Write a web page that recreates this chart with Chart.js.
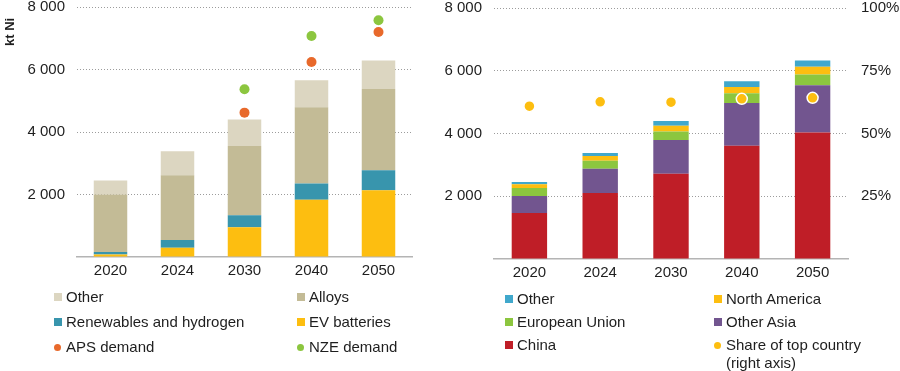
<!DOCTYPE html>
<html>
<head>
<meta charset="utf-8">
<script src="https://cdn.jsdelivr.net/npm/chart.js@4.4.0/dist/chart.umd.min.js"></script>
<style>
  html, body { margin: 0; padding: 0; background: #fff; }
  body { width: 900px; height: 371px; position: relative; overflow: hidden; font-family: "Liberation Sans", Arial, sans-serif; color: #1e1e1e; }
  .painel { position: absolute; }
  .eixo-titulo { position: absolute; left: 2px; transform: rotate(-90deg); transform-origin: left top; font-weight: bold; font-size: 13px; white-space: nowrap; }
  .legenda { position: absolute; font-size: 15px; line-height: 18px; }
  .legenda .item { position: absolute; white-space: nowrap; }
  .legenda .quad { position: absolute; width: 8px; height: 8px; top: 5px; }
  .legenda .ponto { position: absolute; width: 7px; height: 7px; border-radius: 50%; top: 6px; }
  .legenda .txt { position: absolute; left: 12px; top: 0; }
</style>
</head>
<body>
<div class="painel" style="left:0;top:-14px;width:450px;height:301px"><canvas id="graficoUso" width="450" height="301"></canvas></div>
<div class="painel" style="left:436px;top:-14px;width:464px;height:303px"><canvas id="graficoRegiao" width="464" height="303"></canvas></div>
<div class="eixo-titulo" style="top:46px">kt Ni</div>
<div class="legenda" id="legendaUso"></div>
<div class="legenda" id="legendaRegiao"></div>

<script>
// Anos (eixo x compartilhado)
const anos = ['2020', '2024', '2030', '2040', '2050'];

// Demanda por uso final (kt Ni) - grafico da esquerda
const evBatteries = [80, 300, 950, 1830, 2140];
const renewables = [80, 245, 390, 525, 640];
const alloys = [1840, 2070, 2210, 2440, 2600];
const otherUse = [450, 770, 850, 865, 910];
const apsDemand = [null, null, 4620, 6240, 7200];
const nzeDemand = [null, null, 5370, 7070, 7575];

// Demanda por regiao (kt Ni) - grafico da direita
const china = [1470, 2100, 2720, 3610, 4030];
const otherAsia = [540, 780, 1075, 1360, 1510];
const europeanUnion = [250, 250, 270, 315, 340];
const northAmerica = [120, 150, 180, 200, 250];
const otherRegion = [75, 95, 150, 180, 200];
const topShare = [60.9, 62.6, 62.5, 63.8, 64.2];

// ticks dos eixos
const ticksKt = [0, 2000, 4000, 6000, 8000];
const ticksPct = [0, 25, 50, 75, 100];

const cores = {
    outroUso: '#dcd6c1',
    ligas: '#c3bb96',
    renovaveis: '#3895ad',
    baterias: '#fdbe10',
    aps: '#e8692b',
    nze: '#8cc63f',
    outraRegiao: '#40a8cc',
    america: '#fdbe10',
    europa: '#8cc63f',
    asia: '#72558f',
    china: '#bf1e27',
    share: '#fdbe10'
};

const fonte = { family: '"Liberation Sans", Arial, sans-serif', size: 15 };
const corTexto = '#1e1e1e';
const formatKt = (v) => v === 0 ? '' : v.toLocaleString('fr-FR').replace(/\u202f|\u00a0/g, ' ');

function eixoY(largura, extra) {
    return Object.assign({
        min: 0,
        max: 8000,
        afterBuildTicks: (s) => { s.ticks = ticksKt.map(v => ({ value: v })); },
        afterFit: (s) => { s.width = largura; },
        border: { display: false, dash: [1, 2] },
        grid: {
            drawTicks: false,
            color: (ctx) => ctx.tick && ctx.tick.value === 0 ? 'rgba(0,0,0,0)' : '#9c9c9c'
        },
        ticks: { padding: 12, color: corTexto, font: fonte, callback: (v) => formatKt(v) }
    }, extra || {});
}

function eixoX() {
    return {
        stacked: true,
        border: { display: true, color: '#b4b4b4', width: 1.5 },
        grid: { display: false, drawTicks: false },
        ticks: { padding: 5, color: corTexto, font: fonte }
    };
}

function barra(label, data, cor) {
    return { type: 'bar', label, data, backgroundColor: cor, barPercentage: 0.5, categoryPercentage: 1, stack: 'total' };
}

function ponto(label, data, cor, yAxisID, raio, borda) {
    return {
        type: 'line', label, data, yAxisID, showLine: false, order: -1, stack: label,
        pointRadius: raio, pointHoverRadius: raio,
        pointBackgroundColor: cor, pointBorderColor: borda ? '#fff' : cor, pointBorderWidth: borda ? 1.5 : 0
    };
}

function graficoUso() {
    const ctx = document.getElementById('graficoUso').getContext('2d');
    new Chart(ctx, {
        data: {
            labels: anos,
            datasets: [
                ponto('APS demand', apsDemand, cores.aps, 'y', 5, false),
                ponto('NZE demand', nzeDemand, cores.nze, 'y', 5, false),
                barra('EV batteries', evBatteries, cores.baterias),
                barra('Renewables and hydrogen', renewables, cores.renovaveis),
                barra('Alloys', alloys, cores.ligas),
                barra('Other', otherUse, cores.outroUso)
            ]
        },
        options: {
            responsive: false,
            animation: false,
            layout: { padding: { top: 0, right: 38, bottom: 2, left: 0 } },
            plugins: { legend: { display: false }, tooltip: { enabled: false } },
            scales: {
                x: eixoX(),
                y: eixoY(77, { stacked: true })
            }
        }
    });
}

function graficoRegiao() {
    const ctx = document.getElementById('graficoRegiao').getContext('2d');
    new Chart(ctx, {
        data: {
            labels: anos,
            datasets: [
                ponto('Share of top country (right axis)', topShare, cores.share, 'y1', 5.5, true),
                barra('China', china, cores.china),
                barra('Other Asia', otherAsia, cores.asia),
                barra('European Union', europeanUnion, cores.europa),
                barra('North America', northAmerica, cores.america),
                barra('Other', otherRegion, cores.outraRegiao)
            ]
        },
        options: {
            responsive: false,
            animation: false,
            layout: { padding: { top: 0, right: 0, bottom: 2, left: 0 } },
            plugins: { legend: { display: false }, tooltip: { enabled: false } },
            scales: {
                x: eixoX(),
                y: eixoY(58, { stacked: true }),
                y1: {
                    position: 'right',
                    min: 0,
                    max: 100,
                    afterBuildTicks: (s) => { s.ticks = ticksPct.map(v => ({ value: v })); },
                    afterFit: (s) => { s.width = 52; },
                    border: { display: false },
                    grid: { display: false, drawTicks: false },
                    ticks: { padding: 13, color: corTexto, font: fonte, callback: (v) => v === 0 ? '' : v + '%' }
                }
            }
        }
    });
}

// Legendas em HTML (duas colunas por painel)
function montarLegenda(id, origemX, origemY, colunas, linhas, itens) {
    const el = document.getElementById(id);
    el.style.left = origemX + 'px';
    el.style.top = origemY + 'px';
    itens.forEach((it, i) => {
        const col = i % 2, lin = Math.floor(i / 2);
        const div = document.createElement('div');
        div.className = 'item';
        div.style.left = colunas[col] + 'px';
        div.style.top = linhas[lin] + 'px';
        const marca = document.createElement('span');
        marca.className = it.forma === 'ponto' ? 'ponto' : 'quad';
        marca.style.background = it.cor;
        const txt = document.createElement('span');
        txt.className = 'txt';
        txt.innerHTML = it.texto;
        div.appendChild(marca);
        div.appendChild(txt);
        el.appendChild(div);
    });
}

document.addEventListener('DOMContentLoaded', () => {
    graficoUso();
    graficoRegiao();

    montarLegenda('legendaUso', 0, 0, [54, 297], [288, 313, 338], [
        { texto: 'Other', cor: cores.outroUso },
        { texto: 'Alloys', cor: cores.ligas },
        { texto: 'Renewables and hydrogen', cor: cores.renovaveis },
        { texto: 'EV batteries', cor: cores.baterias },
        { texto: 'APS demand', cor: cores.aps, forma: 'ponto' },
        { texto: 'NZE demand', cor: cores.nze, forma: 'ponto' }
    ]);

    montarLegenda('legendaRegiao', 450, 0, [55, 264], [290, 313, 336], [
        { texto: 'Other', cor: cores.outraRegiao },
        { texto: 'North America', cor: cores.america },
        { texto: 'European Union', cor: cores.europa },
        { texto: 'Other Asia', cor: cores.asia },
        { texto: 'China', cor: cores.china },
        { texto: 'Share of top country<br>(right axis)', cor: cores.share, forma: 'ponto' }
    ]);
});
</script>
</body>
</html>
